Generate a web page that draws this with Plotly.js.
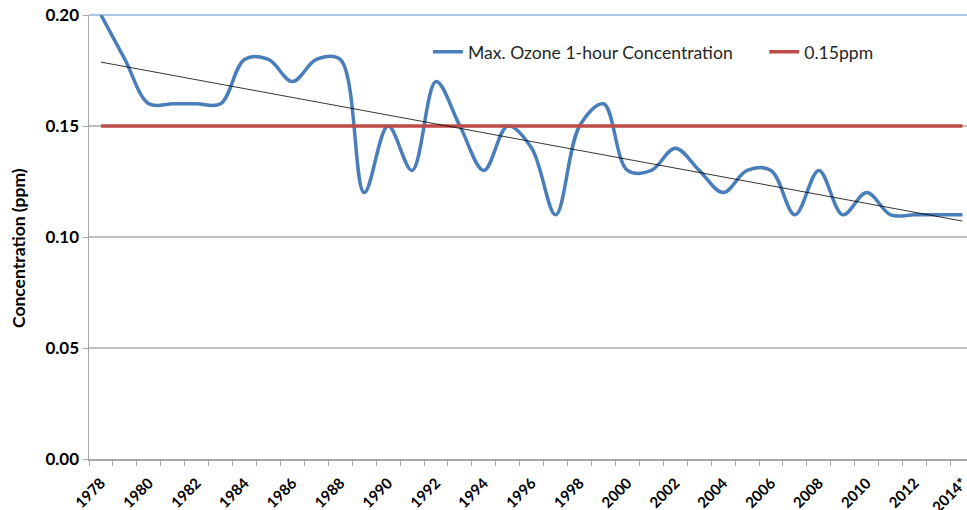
<!DOCTYPE html>
<html>
<head>
<meta charset="utf-8">
<script src="https://cdn.plot.ly/plotly-3.0.1.min.js"></script>
<style>html,body{margin:0;padding:0;overflow:hidden;background:#fff;}#chart{width:967px;height:510px;}</style>
</head>
<body>
<div id="chart"></div>
<script>
var years = ['1978','1979','1980','1981','1982','1983','1984','1985','1986','1987','1988','1989','1990','1991','1992','1993','1994','1995','1996','1997','1998','1999','2000','2001','2002','2003','2004','2005','2006','2007','2008','2009','2010','2011','2012','2013','2014*'];
var ozoneMax = [0.20,0.18,0.16,0.16,0.16,0.16,0.18,0.18,0.17,0.18,0.18,0.12,0.15,0.13,0.17,0.15,0.13,0.15,0.14,0.11,0.15,0.16,0.13,0.13,0.14,0.13,0.12,0.13,0.13,0.11,0.13,0.11,0.12,0.11,0.11,0.11,0.11];
var standardLevel = 0.15;
var standardValues = years.map(function(){ return standardLevel; });
var tickLabels = years.map(function(y, i){ return i % 2 === 0 ? y : ''; });
var yTicks = [0, 0.05, 0.10, 0.15, 0.20];
var yTickLabels = ['0.00','0.05','0.10','0.15','0.20'];
var yTitle = 'Concentration (ppm)';

// linear trendline (least squares) from the data
var n = ozoneMax.length, sx = 0, sy = 0, sxx = 0, sxy = 0;
for (var i = 0; i < n; i++) { sx += i; sy += ozoneMax[i]; sxx += i*i; sxy += i*ozoneMax[i]; }
var slope = (n*sxy - sx*sy) / (n*sxx - sx*sx);
var intercept = (sy - slope*sx) / n;
var trendValues = years.map(function(_, i){ return intercept + slope*i; });

var FONT = 'Lato, "Open Sans", sans-serif';
var legendFont = {size: 17.6, color: '#262626', family: FONT};

var traces = [
  {x: years, y: ozoneMax, type: 'scatter', mode: 'lines', name: 'Max. Ozone 1-hour Concentration',
   legend: 'legend',
   line: {color: '#4a7ebb', width: 3.5, shape: 'spline', smoothing: 1}},
  {x: years, y: standardValues, type: 'scatter', mode: 'lines', name: '0.15ppm',
   legend: 'legend2',
   line: {color: '#be4b48', width: 3.5}},
  {x: years, y: trendValues, type: 'scatter', mode: 'lines', name: 'Linear trend', showlegend: false,
   line: {color: '#000000', width: 0.8}}
];

var layout = {
  width: 967, height: 510,
  margin: {l: 89, r: 0, t: 15, b: 51},
  paper_bgcolor: '#ffffff', plot_bgcolor: '#ffffff',
  font: {family: FONT, color: '#000'},
  showlegend: true,
  legend: {orientation: 'h', x: 0.386, xanchor: 'left', y: 0.917, yanchor: 'middle',
           font: legendFont, bgcolor: 'rgba(0,0,0,0)', itemwidth: 30},
  legend2: {orientation: 'h', x: 0.769, xanchor: 'left', y: 0.917, yanchor: 'middle',
           font: legendFont, bgcolor: 'rgba(0,0,0,0)', itemwidth: 30},
  xaxis: {type: 'category', range: [-0.5, 36.19], tickson: 'boundaries',
          tickvals: years, ticktext: tickLabels, tickangle: -45, ticklabelstandoff: 8,
          ticks: 'outside', ticklen: 5, tickcolor: '#a6a6a6', tickwidth: 1,
          showline: true, linecolor: '#a6a6a6', linewidth: 1.5,
          showgrid: false, zeroline: false,
          tickfont: {size: 15, family: FONT, color: '#000', weight: 'bold'}},
  yaxis: {range: [0, 0.20], tickvals: yTicks, ticktext: yTickLabels,
          ticks: 'outside', ticklen: 5, tickcolor: '#a6a6a6',
          showline: true, linecolor: '#a6a6a6', linewidth: 1.5,
          showgrid: true, gridcolor: '#bfbfbf', gridwidth: 1.3, zeroline: false,
          tickfont: {size: 17, family: FONT, color: '#000', weight: 'bold'}},
  annotations: [{text: yTitle, textangle: -90, xref: 'paper', yref: 'paper',
                 x: -0.081, y: 0.475, xanchor: 'center', yanchor: 'middle', showarrow: false,
                 font: {size: 17.5, family: FONT, color: '#000', weight: 'bold'}}],
  shapes: [{type: 'line', xref: 'paper', yref: 'paper', x0: 0, x1: 1, y0: 1, y1: 1,
            line: {color: '#8eb0dc', width: 1.3}, layer: 'below'}]
};

Plotly.newPlot('chart', traces, layout, {displayModeBar: false, staticPlot: true});
</script>
</body>
</html>
